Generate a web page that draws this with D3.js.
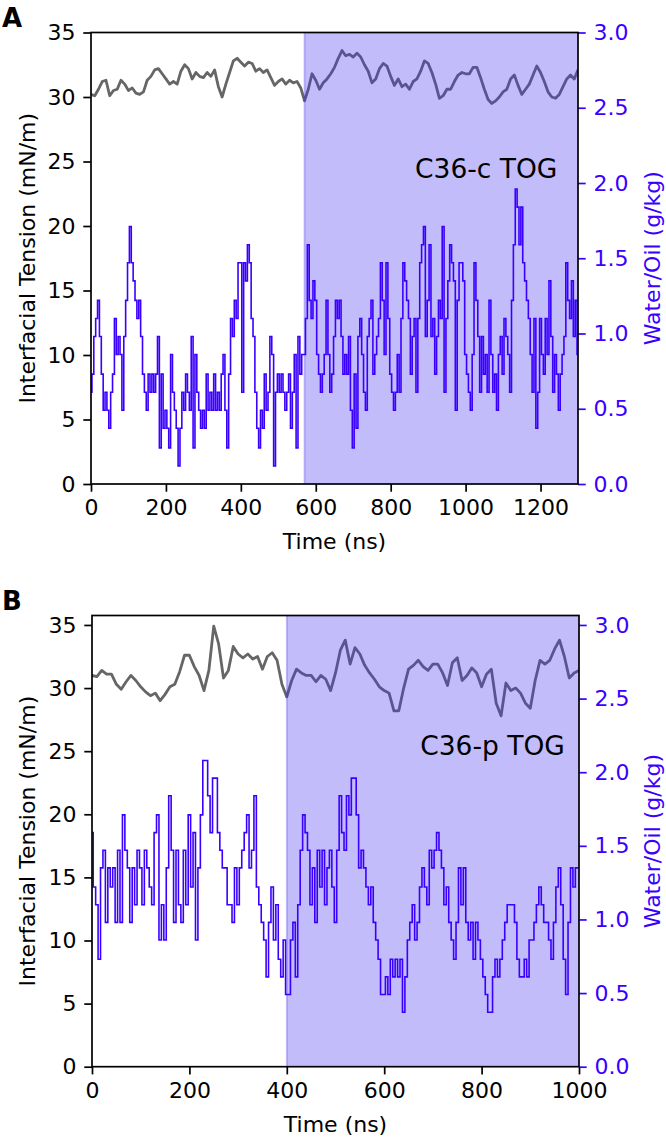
<!DOCTYPE html>
<html>
<head>
<meta charset="UTF-8">
<title>Interfacial tension and water/oil</title>
<style>
  html, body { margin: 0; padding: 0; background: #fff; }
  svg { display: block; font-family: "DejaVu Sans", sans-serif; }
</style>
</head>
<body>
<svg id="chart" width="666" height="1137"></svg>
<script src="https://d3js.org/d3.v7.min.js"></script>
<script>
// ---- data ----
// interfacial tension (mN/m), one value every 10 ns
const tensionA = [
  30.2,30.1,30.6,31.2,31.3,30.1,30.5,30.6,31.3,31.0,
  30.5,30.7,30.3,30.2,30.4,31.3,31.6,32.1,32.2,31.8,
  31.4,31.0,31.2,31.0,32.0,32.5,32.2,31.4,31.9,31.6,
  31.5,31.9,31.6,32.1,30.8,30.0,31.0,31.9,32.8,33.0,
  32.7,32.4,32.7,32.6,32.0,32.2,31.9,32.1,31.5,30.9,
  31.2,31.4,31.0,31.3,31.1,31.2,30.7,29.7,30.6,31.8,
  31.3,30.6,31.1,31.4,31.8,32.3,33.0,33.6,33.2,33.3,
  33.1,33.4,33.1,32.5,32.0,31.1,31.4,32.2,32.6,32.4,
  31.6,30.9,31.4,30.8,31.0,30.6,31.2,31.4,32.0,32.8,
  32.6,31.9,31.0,29.9,30.1,30.6,30.6,31.2,31.7,31.9,
  31.8,31.8,32.3,32.3,31.5,30.6,29.8,29.5,29.7,30.0,
  30.4,30.6,31.4,31.7,30.9,30.2,30.6,31.0,31.7,32.4,
  31.9,31.2,30.4,30.0,29.9,30.2,30.8,31.4,31.7,31.4,
  32.1
];
const tensionB = [
  31.0,30.9,31.4,31.1,31.1,30.3,29.9,30.5,31.0,30.6,
  30.1,29.7,29.4,29.6,29.0,29.5,30.1,30.3,31.3,32.6,
  32.6,31.7,31.0,29.8,31.4,34.9,33.5,30.8,31.4,33.3,
  32.7,32.4,32.7,32.3,32.5,31.5,32.5,32.8,32.2,30.3,
  29.3,30.6,31.5,31.2,31.0,31.0,30.5,31.0,30.7,29.8,
  31.2,33.0,33.8,31.9,33.2,32.7,31.8,31.2,30.7,30.1,
  29.8,29.6,28.2,28.2,30.0,31.5,31.8,32.2,31.7,31.4,
  31.9,31.9,31.2,30.2,32.0,32.4,30.6,31.0,31.6,31.2,
  30.1,31.1,31.5,28.8,27.8,30.4,29.8,30.0,29.6,28.8,
  28.4,30.6,32.2,31.9,32.2,33.1,33.8,32.5,30.8,31.2,
  31.4
];
const tensionStep = 10;

// water/oil (g/kg), one value every 5 ns
const waterA = [
  0.61,0.73,0.98,1.10,1.22,0.98,0.73,0.49,0.61,0.49,
  0.37,0.61,0.73,1.10,0.86,0.98,0.86,0.49,0.98,1.22,
  1.47,1.71,1.47,1.35,1.22,1.10,1.22,0.98,0.73,0.61,
  0.49,0.73,0.61,0.73,0.61,0.73,0.98,0.24,0.73,0.37,
  0.49,0.37,0.24,0.86,0.61,0.49,0.37,0.12,0.37,0.61,
  0.49,0.73,0.61,0.49,0.98,0.24,0.86,0.61,0.49,0.37,
  0.49,0.37,0.73,0.49,0.61,0.49,0.73,0.49,0.61,0.49,
  0.73,0.86,0.49,0.24,0.73,1.10,0.98,1.22,1.10,1.47,
  1.47,0.61,1.47,1.35,1.59,1.47,1.10,0.98,0.61,0.37,
  0.24,0.49,0.37,0.73,0.49,0.61,0.98,0.86,0.12,0.61,
  0.73,0.61,0.73,0.61,0.49,0.61,0.73,0.37,0.61,0.86,
  0.24,0.98,0.73,0.86,0.86,1.10,1.59,1.22,1.10,1.35,
  1.22,0.86,0.73,0.61,0.73,0.86,1.22,0.86,0.61,0.73,
  0.98,1.22,1.10,1.22,0.98,0.73,0.86,0.73,0.98,0.49,
  0.24,0.73,0.37,0.98,1.10,0.86,0.61,0.49,0.98,1.10,
  1.22,0.73,0.86,0.98,1.10,1.47,1.22,0.86,1.47,1.10,
  0.73,0.61,0.49,0.61,0.86,0.61,1.10,1.47,1.35,1.22,
  1.10,0.73,0.98,1.10,0.61,1.10,1.47,1.59,1.71,0.98,
  1.22,1.59,0.98,1.10,0.73,0.98,1.22,1.10,1.71,0.61,
  1.10,1.35,1.59,1.47,1.35,0.49,1.22,1.47,1.47,1.35,
  0.86,0.73,0.61,0.49,0.86,1.47,1.22,0.98,0.61,0.98,
  0.73,0.86,0.61,1.22,0.86,0.61,0.73,0.49,0.86,0.98,
  0.73,1.10,0.98,0.86,0.61,1.22,1.59,1.96,1.84,1.59,
  1.84,1.47,1.35,1.22,1.10,0.86,0.61,1.10,0.37,0.61,
  1.10,0.86,0.73,1.10,0.86,1.35,0.98,0.61,0.86,0.73,
  0.49,0.73,0.86,0.98,1.47,1.22,1.10,1.35,0.98,1.22,
  0.86
];
const waterB = [
  1.59,1.22,1.10,0.73,1.35,1.47,0.98,1.35,1.22,1.35,
  0.98,1.47,0.98,1.71,1.47,1.35,0.98,1.35,1.10,1.47,
  1.35,1.10,1.47,1.35,1.22,1.10,1.59,1.71,0.86,1.10,
  0.86,1.35,1.84,1.47,0.98,1.47,1.10,0.98,1.47,1.10,
  1.71,1.22,1.59,0.86,1.35,1.71,2.08,2.08,1.84,1.59,
  1.96,1.96,1.59,1.47,1.35,1.35,1.10,1.10,0.98,1.35,
  1.10,1.35,1.47,1.59,1.71,1.35,1.47,1.84,1.22,1.10,
  0.98,0.86,0.61,0.98,1.22,0.86,1.10,0.73,0.61,0.86,
  0.49,0.49,0.86,0.98,0.61,1.10,1.47,1.71,1.59,1.47,
  1.10,1.35,0.98,1.47,1.22,1.47,1.10,1.35,1.47,1.22,
  0.98,1.47,1.84,1.59,1.47,1.84,1.71,1.96,1.96,1.71,
  1.35,1.47,1.35,1.22,1.10,1.22,0.98,0.86,0.73,0.49,
  0.49,0.61,0.49,0.73,0.61,0.73,0.61,0.73,0.37,0.61,
  0.86,0.98,1.10,0.86,0.98,1.22,1.35,1.22,1.10,1.47,
  1.35,1.47,1.59,1.47,1.35,1.10,1.22,0.98,0.86,0.73,
  0.98,1.35,1.10,1.35,0.98,0.86,0.98,0.73,0.98,0.86,
  0.73,0.61,0.49,0.37,0.37,0.61,0.73,0.61,0.73,0.86,
  0.98,1.10,1.10,1.10,0.98,0.73,0.61,0.61,0.73,0.61,
  0.86,0.86,0.98,1.10,1.22,1.10,0.98,0.98,0.86,0.73,
  0.98,1.22,1.35,1.10,0.73,0.49,0.98,1.35,1.22,1.35,
  1.35
];
const waterStep = 5;

const timeTicksA = [0, 200, 400, 600, 800, 1000, 1200];
const timeTicksB = [0, 200, 400, 600, 800, 1000];
const tensionTicks = [0, 5, 10, 15, 20, 25, 30, 35];
const waterTicks = [0.0, 0.5, 1.0, 1.5, 2.0, 2.5, 3.0];

// ---- layout ----
const FONT = 22;
const TICK = 7.7;
const PAD = 7.7;
const SPINE = 1.7;
const BLUE = "#3a00ff";
const GRAY = "#666666";

const panels = [
  { letter: "A", name: "C36-c TOG", tension: tensionA, water: waterA,
    tMax: 1300, spanFrom: 570, tTicks: timeTicksA, yTop: 35,
    left: 91, right: 578, top: 32.5, bottom: 484, nameAt: [1245, 23.7] },
  { letter: "B", name: "C36-p TOG", tension: tensionB, water: waterB,
    tMax: 1000, spanFrom: 400, tTicks: timeTicksB, yTop: 35.75,
    left: 92, right: 579, top: 615.5, bottom: 1066.7, nameAt: [971, 24.7] }
];

const svg = d3.select("#chart");
svg.append("rect").attr("width", 666).attr("height", 1137).attr("fill", "#fff");

panels.forEach((p, i) => {
  const x = d3.scaleLinear().domain([0, p.tMax]).range([p.left, p.right]);
  const yL = d3.scaleLinear().domain([0, p.yTop]).range([p.bottom, p.top]);
  const yR = d3.scaleLinear().domain([0, 3.0 * p.yTop / 35]).range([p.bottom, p.top]);

  const g = svg.append("g");
  const clipId = "clip" + i;
  g.append("clipPath").attr("id", clipId)
    .append("rect")
    .attr("x", p.left).attr("y", p.top)
    .attr("width", p.right - p.left).attr("height", p.bottom - p.top);

  const plot = g.append("g").attr("clip-path", `url(#${clipId})`);

  // gray tension line (left axis)
  const tLine = d3.line()
    .x((d, j) => x(j * tensionStep))
    .y(d => yL(d));
  plot.append("path").datum(p.tension)
    .attr("d", tLine)
    .attr("fill", "none")
    .attr("stroke", GRAY)
    .attr("stroke-width", 2.8)
    .attr("stroke-linejoin", "round");

  // shaded region, drawn over the gray line
  plot.append("rect")
    .attr("x", x(p.spanFrom)).attr("y", p.top)
    .attr("width", x(p.tMax) - x(p.spanFrom)).attr("height", p.bottom - p.top)
    .attr("fill", "rgb(64,48,240)").attr("fill-opacity", 0.32);
  plot.append("line")
    .attr("x1", x(p.spanFrom)).attr("x2", x(p.spanFrom))
    .attr("y1", p.top).attr("y2", p.bottom)
    .attr("stroke", "rgb(64,48,240)").attr("stroke-opacity", 0.3)
    .attr("stroke-width", 1.8);

  // blue water/oil line (right axis)
  const wLine = d3.line()
    .x((d, j) => x(j * waterStep))
    .y(d => yR(d))
    .curve(d3.curveStep);
  plot.append("path").datum(p.water)
    .attr("d", wLine)
    .attr("fill", "none")
    .attr("stroke", BLUE)
    .attr("stroke-width", 1.6);

  // axes
  const styleAxis = (sel, color) => {
    sel.select(".domain").remove();
    sel.selectAll("line").attr("stroke", color).attr("stroke-width", SPINE);
    sel.selectAll("text").attr("fill", color)
      .style("font-size", FONT + "px").style("font-family", "DejaVu Sans");
  };

  g.append("g").attr("transform", `translate(0,${p.bottom})`)
    .call(d3.axisBottom(x).tickValues(p.tTicks).tickFormat(d3.format("d"))
      .tickSize(TICK).tickPadding(PAD))
    .call(s => styleAxis(s, "#000"));

  g.append("g").attr("transform", `translate(${p.left},0)`)
    .call(d3.axisLeft(yL).tickValues(tensionTicks).tickFormat(d3.format("d"))
      .tickSize(TICK).tickPadding(PAD))
    .call(s => styleAxis(s, "#000"));

  g.append("g").attr("transform", `translate(${p.right},0)`)
    .call(d3.axisRight(yR).tickValues(waterTicks).tickFormat(d3.format(".1f"))
      .tickSize(TICK).tickPadding(PAD))
    .call(s => styleAxis(s, BLUE));

  // frame
  g.append("rect")
    .attr("x", p.left).attr("y", p.top)
    .attr("width", p.right - p.left).attr("height", p.bottom - p.top)
    .attr("fill", "none").attr("stroke", "#000").attr("stroke-width", SPINE);

  // labels
  const midY = (p.top + p.bottom) / 2;
  g.append("text")
    .attr("transform", `translate(27,${midY}) rotate(-90)`)
    .attr("text-anchor", "middle").attr("dy", "0.35em")
    .style("font-size", FONT + "px")
    .text("Interfacial Tension (mN/m)");

  g.append("text")
    .attr("transform", `translate(652,${midY}) rotate(-90)`)
    .attr("text-anchor", "middle").attr("dy", "0.35em")
    .attr("fill", BLUE)
    .style("font-size", FONT + "px")
    .text("Water/Oil (g/kg)");

  g.append("text")
    .attr("x", (p.left + p.right) / 2).attr("y", p.bottom + 65)
    .attr("text-anchor", "middle")
    .style("font-size", FONT + "px")
    .text("Time (ns)");

  g.append("text")
    .attr("x", x(p.nameAt[0])).attr("y", yL(p.nameAt[1]))
    .attr("text-anchor", "end")
    .style("font-size", "26.5px")
    .text(p.name);

  g.append("text")
    .attr("x", 2).attr("y", p.top - 5.5)
    .style("font-size", "26px").style("font-weight", "bold")
    .text(p.letter);
});
</script>
</body>
</html>
